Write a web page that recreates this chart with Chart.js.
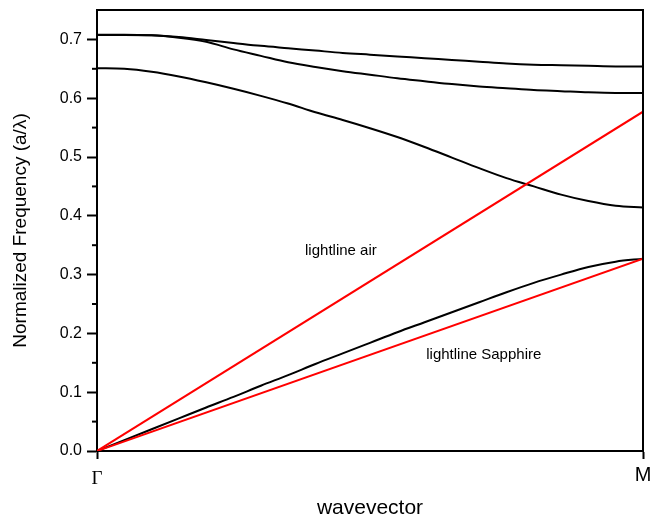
<!DOCTYPE html>
<html lang="en">
<head>
  <meta charset="UTF-8">
  <title>Band Diagram</title>
  <script src="https://cdn.jsdelivr.net/npm/chart.js"></script>
  <style>
    html, body { margin: 0; padding: 0; background: #fff; }
    #wrap { width: 652px; height: 519px; position: relative; }
  </style>
</head>
<body>
  <div id="wrap"><canvas id="bandChart"></canvas></div>
  <script>
    // wavevector along Γ -> M (0 = Γ, 1 = M)
    const kPath = [0, 0.05, 0.1, 0.15, 0.2, 0.25, 0.3, 0.35, 0.4, 0.45, 0.5,
                   0.55, 0.6, 0.65, 0.7, 0.75, 0.8, 0.85, 0.9, 0.95, 1];

    // normalized frequencies of the four bands
    const band1 = [0, 0.0185, 0.037, 0.0555, 0.074, 0.092, 0.111, 0.129, 0.148, 0.166, 0.184,
                   0.202, 0.219, 0.236, 0.253, 0.270, 0.286, 0.300, 0.313, 0.322, 0.327];
    const band2 = [0.651, 0.650, 0.645, 0.637, 0.627, 0.616, 0.604, 0.591, 0.576, 0.563, 0.549,
                   0.534, 0.517, 0.499, 0.481, 0.464, 0.450, 0.436, 0.425, 0.417, 0.414];
    const band3 = [0.7075, 0.7075, 0.707, 0.703, 0.696, 0.683, 0.672, 0.661, 0.653, 0.646, 0.640,
                   0.634, 0.629, 0.624, 0.620, 0.617, 0.614, 0.612, 0.610, 0.609, 0.609];
    const band4 = [0.708, 0.708, 0.707, 0.704, 0.699, 0.694, 0.689, 0.685, 0.681, 0.677, 0.674,
                   0.671, 0.668, 0.665, 0.662, 0.659, 0.657, 0.656, 0.655, 0.654, 0.654];

    // light lines
    const lightK = [0, 1];
    const lightAir = [0, 0.577];
    const lightSapphire = [0, 0.327];

    const yMinorTicks = [0.05, 0.15, 0.25, 0.35, 0.45, 0.55, 0.65];
    const kLabels = { 0: 'Γ', 1: 'M' };

    // text labels placed in data coordinates
    const notes = [
      { text: 'lightline air', x: 0.381, y: 0.334 },
      { text: 'lightline Sapphire', x: 0.603, y: 0.156 }
    ];

    const toPoints = (xs, ys) => xs.map((x, i) => ({ x: x, y: ys[i] }));

    const bandStyle = { borderColor: '#000', borderWidth: 2, pointRadius: 0, fill: false,
                        cubicInterpolationMode: 'monotone' };
    const lightStyle = { borderColor: '#ff0000', borderWidth: 2, pointRadius: 0, fill: false };

    // keep the plot box fixed: no extra room for edge labels
    const noEdgePadding = s => {
      s.paddingLeft = 0; s.paddingRight = 0; s.paddingTop = 0; s.paddingBottom = 0;
    };

    // frame, minor ticks and notes
    const framePlugin = {
      id: 'frame',
      afterDraw(chart) {
        const { ctx, chartArea: a, scales } = chart;
        ctx.save();
        ctx.strokeStyle = '#000';
        ctx.lineWidth = 2;
        ctx.beginPath();
        ctx.moveTo(a.left, a.top);
        ctx.lineTo(a.right, a.top);
        ctx.lineTo(a.right, a.bottom);
        ctx.stroke();

        yMinorTicks.forEach(v => {
          const y = scales.y.getPixelForValue(v);
          ctx.beginPath();
          ctx.moveTo(a.left - 5, y);
          ctx.lineTo(a.left, y);
          ctx.stroke();
        });

        ctx.fillStyle = '#000';
        ctx.font = '15px Arial, "Liberation Sans", sans-serif';
        ctx.textBaseline = 'alphabetic';
        ctx.textAlign = 'left';
        notes.forEach(n => {
          ctx.fillText(n.text, scales.x.getPixelForValue(n.x), scales.y.getPixelForValue(n.y));
        });
        ctx.restore();
      }
    };

    new Chart(document.getElementById('bandChart'), {
      type: 'line',
      data: {
        datasets: [
          Object.assign({ data: toPoints(lightK, lightAir) }, lightStyle),
          Object.assign({ data: toPoints(lightK, lightSapphire) }, lightStyle),
          Object.assign({ data: toPoints(kPath, band1) }, bandStyle),
          Object.assign({ data: toPoints(kPath, band2) }, bandStyle),
          Object.assign({ data: toPoints(kPath, band3) }, bandStyle),
          Object.assign({ data: toPoints(kPath, band4) }, bandStyle)
        ]
      },
      options: {
        responsive: true,
        maintainAspectRatio: false,
        animation: false,
        layout: { padding: { top: 10, right: 9, left: 0, bottom: 0 } },
        plugins: { legend: { display: false }, tooltip: { enabled: false } },
        scales: {
          x: {
            type: 'linear',
            min: 0,
            max: 1,
            afterFit: s => { s.height = 68; noEdgePadding(s); },
            border: { display: true, color: '#000', width: 2 },
            grid: { drawOnChartArea: false, tickLength: 8, tickColor: '#000', tickWidth: 2 },
            ticks: {
              stepSize: 1,
              padding: 6,
              maxRotation: 0,
              color: '#000',
              callback: v => kLabels[v] || '',
              font: c => (c.tick && c.tick.value === 0)
                ? { family: '"Liberation Serif", "Times New Roman", serif', size: 19, lineHeight: 1.5 }
                : { family: 'Arial, "Liberation Sans", sans-serif', size: 20, lineHeight: 1.05 }
            },
            title: {
              display: true,
              text: 'wavevector',
              color: '#000',
              font: { family: 'Arial, "Liberation Sans", sans-serif', size: 21, lineHeight: 1 },
              padding: { top: 0, bottom: 0 }
            }
          },
          y: {
            min: 0,
            max: 0.75,
            afterFit: s => { s.width = 97; noEdgePadding(s); },
            border: { display: true, color: '#000', width: 2 },
            grid: { drawOnChartArea: false, tickLength: 10, tickColor: '#000', tickWidth: 2 },
            ticks: {
              stepSize: 0.1,
              includeBounds: false,
              padding: 5,
              color: '#000',
              font: { family: 'Arial, "Liberation Sans", sans-serif', size: 16 },
              callback: v => v.toFixed(1)
            },
            title: {
              display: true,
              text: 'Normalized Frequency (a/λ)',
              color: '#000',
              font: { family: 'Arial, "Liberation Sans", sans-serif', size: 19, lineHeight: 1 },
              padding: { top: 11, bottom: 0 }
            }
          }
        }
      },
      plugins: [framePlugin]
    });
  </script>
</body>
</html>
